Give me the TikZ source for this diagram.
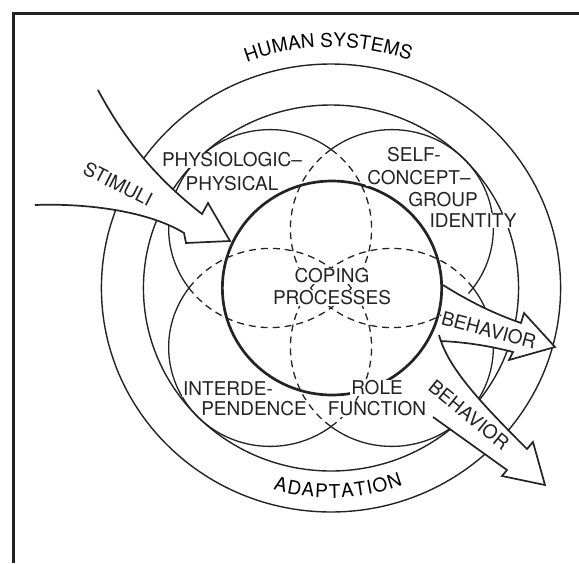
\documentclass[tikz,border=0pt]{standalone}
\usepackage{fontspec}
\setmainfont{TeX Gyre Heros}
\usetikzlibrary{positioning,decorations.text}

\definecolor{ink}{RGB}{35,35,35}

\begin{document}
\begin{tikzpicture}[
  x=1pt, y=1pt, color=ink,
  ring/.style={line width=1.4pt},
  lobe/.style={line width=1.3pt},
  hidden/.style={lobe, dash pattern=on 7pt off 5pt},
  coping/.style={line width=2.7pt},
  flow/.style={draw, fill=white, line width=1.7pt, line join=miter},
  lbl/.style={font=\fontsize{19}{22}\selectfont, fill=white, inner sep=1pt},
  tag/.style={font=\fontsize{19}{22}\selectfont, inner sep=0pt},
  rings/.style={shift={(331,-288)}, xscale=1.025}
]
\useasboundingbox (0,0) rectangle (579,-563);
\coordinate (hub) at (331,-288);

% frame
\draw[line width=3pt] (579,-13) -- (13,-13) -- (13,-563);

% system rings and the four modes
\begin{scope}[rings]
  \draw[ring] (0,0) circle[radius=224];
  \draw[ring] (0,0) circle[radius=183];
  \draw[lobe] (135:84) ++(53.1:99) arc[start angle=53.1, end angle=216.9, radius=99];
  \draw[hidden] (135:84) ++(216.9:99) arc[start angle=216.9, end angle=413.1, radius=99];
  \draw[lobe] (45:84) ++(-36.9:99) arc[start angle=-36.9, end angle=126.9, radius=99];
  \draw[hidden] (45:84) ++(126.9:99) arc[start angle=126.9, end angle=323.1, radius=99];
  \draw[lobe] (225:84) ++(143.1:99) arc[start angle=143.1, end angle=306.9, radius=99];
  \draw[hidden] (225:84) ++(306.9:99) arc[start angle=306.9, end angle=503.1, radius=99];
  \draw[lobe] (315:84) ++(233.1:99) arc[start angle=233.1, end angle=396.9, radius=99];
  \draw[hidden] (315:84) ++(396.9:99) arc[start angle=396.9, end angle=593.1, radius=99];
\end{scope}

% stimuli in, behavior out
\draw[flow] (98,-90) .. controls (130,-150) and (165,-185) .. (202,-214) -- (208,-203)
  -- (230,-241) -- (186,-243) -- (184,-233) .. controls (150,-212) and (90,-203) .. (35,-205);
\draw[flow] (443,-285) .. controls (470,-302) and (495,-314) .. (521,-323) -- (524,-313)
  -- (555,-347) -- (509,-360) -- (513,-352) .. controls (490,-346) and (465,-342) .. (440,-341);
\draw[flow] (439,-335) .. controls (448,-368) and (480,-402) .. (527,-449) -- (533,-442)
  -- (545,-485) -- (502,-476) -- (507,-470) -- (433,-417);

% coping processes
\begin{scope}[rings]
  \draw[coping] (1,0) circle[radius=107];
\end{scope}

% ring labels
\path[decorate, decoration={text along path, text align=fit to path,
  text={|\fontsize{19}{22}\selectfont|HUMAN SYSTEMS}}]
  ([shift={(110.4:241)}]hub) arc[start angle=110.4, end angle=70.9, radius=241];
\path[decorate, decoration={text along path, text align=fit to path,
  text={|\fontsize{19}{22}\selectfont|ADAPTATION}}]
  ([shift={(254:210)}]hub) arc[start angle=254, end angle=290, radius=210];

% mode labels
\node[lbl] (phys1) at (232,-160) {PHYSIOLOGIC--};
\node[lbl, below=7pt of phys1] (phys2) {PHYSICAL};

\node[lbl] (self1) at (414,-155) {SELF-};
\node[lbl, below=6pt of self1, xshift=5pt] (self2) {CONCEPT--};
\node[lbl, below=5pt of self2, xshift=24pt] (self3) {GROUP};
\node[lbl, below=4pt of self3, xshift=30pt] (self4) {IDENTITY};

\node[lbl] (cope1) at (332,-276) {COPING};
\node[lbl, below=5pt of cope1] (cope2) {PROCESSES};

\node[lbl] (inter1) at (228,-389) {INTERDE-};
\node[lbl, below=3pt of inter1, xshift=26pt] (inter2) {PENDENCE};

\node[lbl] (role1) at (377,-388) {ROLE};
\node[lbl, below=4pt of role1] (role2) {FUNCTION};

% flow labels
\node[tag, rotate=-27] (stim) at (118,-184) {STIMULI};
\node[tag, rotate=-15] (beh1) at (489,-330) {BEHAVIOR};
\node[tag, rotate=-39] (beh2) at (469,-415) {BEHAVIOR};

\end{tikzpicture}
\end{document}
